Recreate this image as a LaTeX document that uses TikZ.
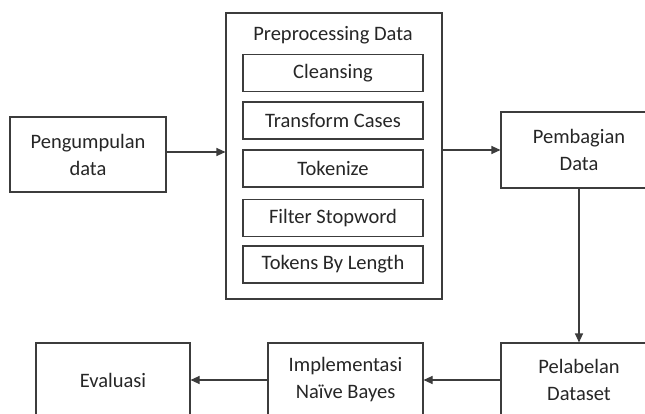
\documentclass[tikz,border=0pt]{standalone}
\usepackage{fontspec}
\setmainfont{Carlito}
\usetikzlibrary{arrows.meta}
\definecolor{ln}{HTML}{3C3C3C}
\definecolor{tx}{HTML}{262626}
\begin{document}
\begin{tikzpicture}[x=1pt,y=-1pt,
  lbl/.style={text=tx,font=\fontsize{20.5}{27}\selectfont,align=center,inner sep=0pt},
  box/.style={lbl,draw=ln,line width=1.1pt,rectangle},
  sub/.style={box,minimum width=180pt,minimum height=37pt},
  big/.style={box,minimum width=156pt},
  arr/.style={draw=ln,line width=1.1pt,-{Triangle[length=9pt,width=8pt]}}]
\useasboundingbox[fill=white] (0,0) rectangle (645,414);
\clip (0,0) rectangle (645,414);
\node[big,minimum height=75pt] (peng) at (88,154.5) {Pengumpulan\\data};
\node[box,minimum width=216pt,minimum height=286pt] (pre) at (334,156) {};
\node[lbl] (title) at (333,35) {Preprocessing Data};
\node[sub] (s1) at (333,73) {Cleansing};
\node[sub] (s2) at (333,120.5) {Transform Cases};
\node[sub] (s3) at (333,168.5) {Tokenize};
\node[sub] (s4) at (333,218) {Filter Stopword};
\node[sub] (s5) at (333,264.5) {Tokens By Length};
\node[big,minimum height=76pt] (pemb) at (579,150) {Pembagian\\Data};
\node[big,minimum height=74pt] (pel) at (579,380) {Pelabelan\\Dataset};
\node[big,minimum width=155pt,minimum height=74pt] (impl) at (345.5,380) {Implementasi\\Naïve Bayes};
\node[big,minimum width=154pt,minimum height=74pt] (eval) at (113,380) {Evaluasi};
\draw[arr] ([yshift=2.5pt]peng.east) -- ([yshift=2.5pt]peng.east -| pre.west);
\draw[arr] (pre.east |- pemb.west) -- (pemb.west);
\draw[arr] (pemb.south) -- (pel.north);
\draw[arr] (pel.west) -- (impl.east);
\draw[arr] (impl.west) -- (eval.east);
\end{tikzpicture}
\end{document}
